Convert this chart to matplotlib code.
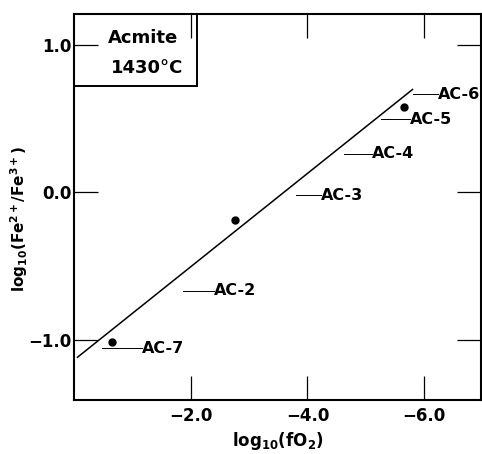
#-------------------------------------------------------------------------
# Imports
import matplotlib
matplotlib.use("Agg")

import matplotlib.pyplot  as plt
from   matplotlib.patches import Rectangle

#-------------------------------------------------------------------------



#-------------------------------------------------------------------------
# Data

# Measured points
pt_logfo2   = [-0.65, -2.76, -5.66]
pt_logratio = [-1.015, -0.19, 0.578]

# Fitted line (end points)
fit_logfo2   = [-0.06, -5.80]
fit_logratio = [-1.12, 0.698]

# Sample labels with their leader lines
sample_names  = ["AC-7", "AC-2", "AC-3", "AC-4", "AC-5", "AC-6"]
sample_y      = [-1.06, -0.669, -0.02, 0.262, 0.495, 0.664]
leader_start  = [-0.485, -1.86, -3.80, -4.63, -5.26, -5.80]
leader_end    = [-1.17, -2.40, -4.23, -5.11, -5.75, -6.23]

xticks      = [-2.0, -4.0, -6.0]
xticklabels = ["\u22122.0", "\u22124.0", "\u22126.0"]
yticks      = [1.0, 0.0, -1.0]
yticklabels = ["1.0", "0.0", "\u22121.0"]

#-------------------------------------------------------------------------



#-------------------------------------------------------------------------
# Plot parameters
plt.rcParams['font.family']      = 'DejaVu Sans'
plt.rcParams['mathtext.fontset'] = 'dejavusans'

tick_len  = 17.3
tick_fs   = 12.0
xlabel_fs = 12.0
ylabel_fs = 11.0
sample_fs = 11.5
box_fs    = 13.0

#-------------------------------------------------------------------------



#-------------------------------------------------------------------------
# Plotting

fig = plt.figure(figsize=(4.82, 4.54), dpi=100)
ax  = fig.add_axes([0.1535, 0.119, 0.844, 0.850])

ax.plot(fit_logfo2, fit_logratio, color='black', lw=1.1)
ax.plot(pt_logfo2, pt_logratio, 'o', color='black', markersize=5)

for name, yy, x0, x1 in zip(sample_names, sample_y, leader_start, leader_end):
	ax.plot([x0, x1], [yy, yy], color='black', lw=0.7)
	ax.text(x1, yy, name, ha='left', va='center', fontsize=sample_fs,
	        fontweight='bold', clip_on=False)

# Title box in the upper left corner
box = Rectangle((0.0, 0.814), 0.302, 0.186, transform=ax.transAxes,
                fill=False, edgecolor='black', lw=1.4)
ax.add_patch(box)
ax.text(0.17, 0.939, "Acmite", transform=ax.transAxes, ha='center', va='center',
        fontsize=box_fs, fontweight='bold')
ax.text(0.18, 0.859, "1430\u00b0C", transform=ax.transAxes, ha='center', va='center',
        fontsize=box_fs, fontweight='bold')

ax.set_xlim(0.0, -6.97)
ax.set_ylim(-1.41, 1.21)

ax.set_xticks(xticks)
ax.set_xticklabels(xticklabels, fontsize=tick_fs, fontweight='bold')
ax.set_yticks(yticks)
ax.set_yticklabels(yticklabels, fontsize=tick_fs, fontweight='bold')
ax.minorticks_off()

ax.tick_params(axis='x', direction='in', length=tick_len, width=0.9, top=True, pad=5)
ax.tick_params(axis='y', direction='in', length=tick_len, width=0.9, right=True, pad=2)

for side in ['left', 'right', 'top', 'bottom']:
	ax.spines[side].set_linewidth(1.5)

ax.set_xlabel(r'$\mathbf{log_{10}(fO_2)}$', fontsize=xlabel_fs, labelpad=4)
ax.set_ylabel(r'$\mathbf{log_{10}(Fe^{2+}/Fe^{3+})}$', fontsize=ylabel_fs)
ax.yaxis.set_label_coords(-0.108, 0.47)

#-------------------------------------------------------------------------



#-------------------------------------------------------------------------
# Saving Plot
fig.savefig("out.png", dpi=100)

#-------------------------------------------------------------------------
